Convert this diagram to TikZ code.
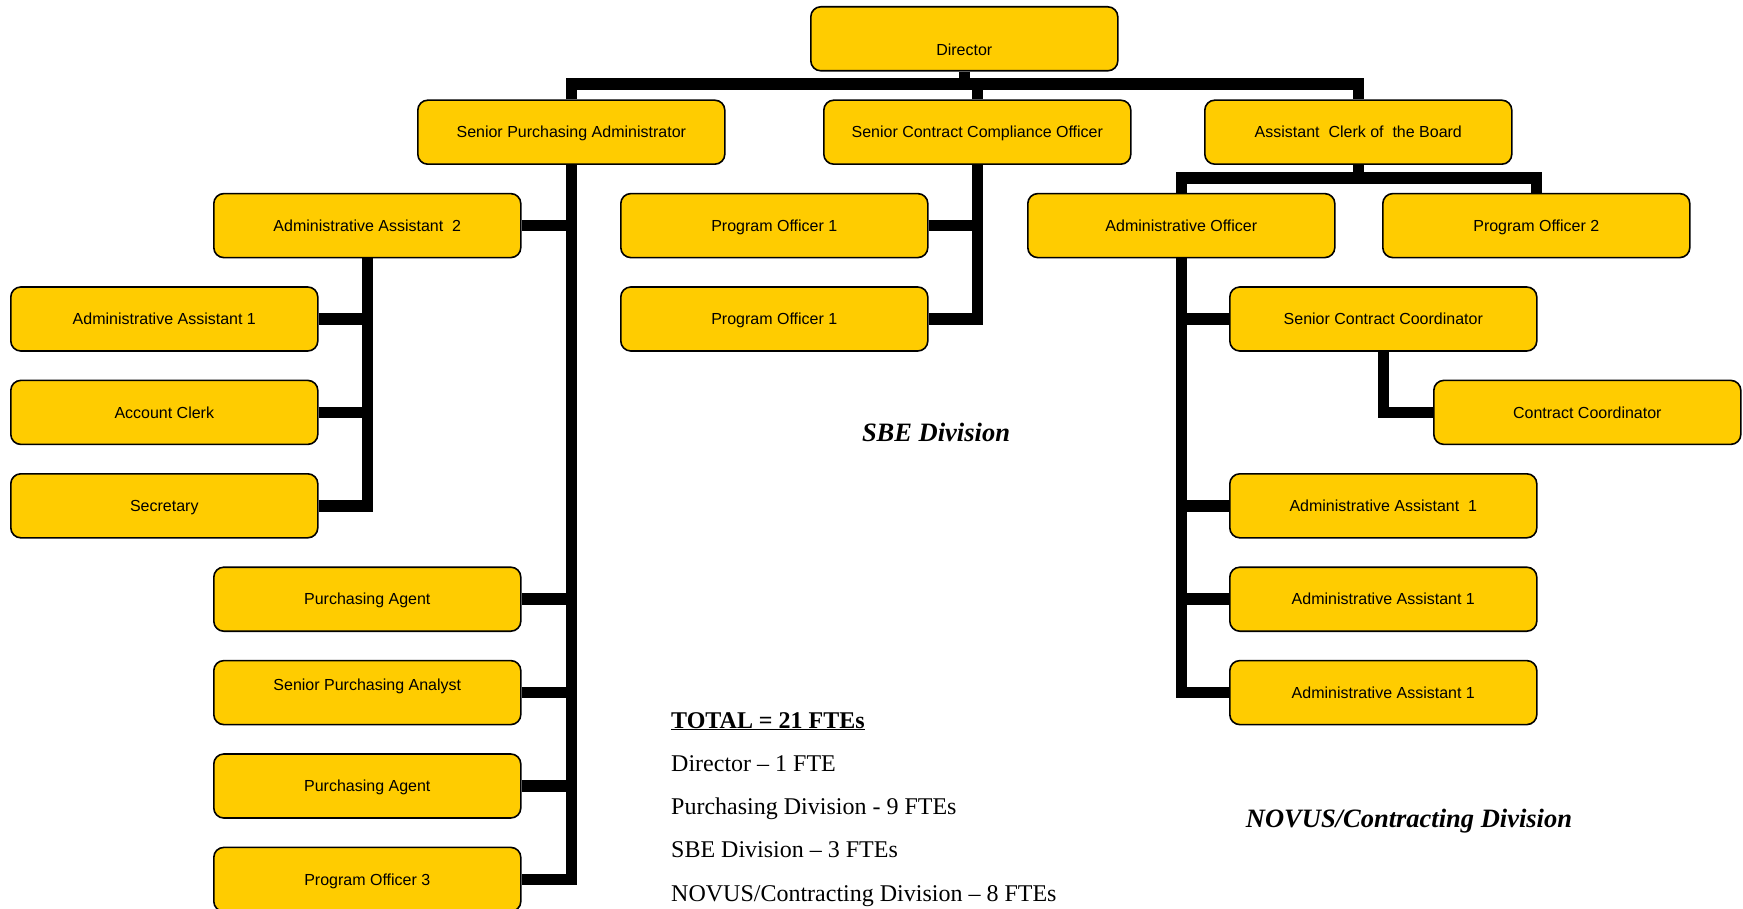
\documentclass[tikz,border=0pt]{standalone}
\usepackage{fontspec}
\setmainfont{Liberation Serif}
\newfontfamily\arialf{Liberation Sans}
\usetikzlibrary{backgrounds}
\definecolor{boxyellow}{RGB}{255,204,0}
\begin{document}
\begin{tikzpicture}[x=1pt,y=-1pt,
  boxfont/.style={font=\arialf\fontsize{16}{19}\selectfont, text height=11.5pt, text depth=0pt},
  orgbox/.style={draw=black, line width=1.6pt, fill=boxyellow, rounded corners=10pt,
    minimum width=307pt, minimum height=64pt, inner sep=0pt, boxfont, anchor=north west},
  link/.style={line width=11.5pt, line join=miter, line cap=butt},
  divlabel/.style={font=\bfseries\itshape\fontsize{26.5}{31}\selectfont, anchor=base},
  totline/.style={font=\fontsize{24}{29}\selectfont, anchor=base west, inner sep=0pt}]
\useasboundingbox (0,0) rectangle (1743,909);

% boxes
\node[orgbox, label={[boxfont, yshift=-11pt]center:Director}] (dir) at (810,6) {};
\node[orgbox] (spa)  at (417,99.4)  {Senior Purchasing Administrator};
\node[orgbox] (scco) at (823,99.4)  {Senior Contract Compliance Officer};
\node[orgbox] (acb)  at (1204,99.4) {Assistant\ \ Clerk of\ \ the Board};
\node[orgbox] (aa2)  at (213,192.8) {Administrative Assistant\ \ 2};
\node[orgbox] (po1a) at (620,192.8) {Program Officer 1};
\node[orgbox] (ao)   at (1027,192.8) {Administrative Officer};
\node[orgbox] (po2)  at (1382,192.8) {Program Officer 2};
\node[orgbox] (aa1l) at (10,286.2)  {Administrative Assistant 1};
\node[orgbox] (po1b) at (620,286.2) {Program Officer 1};
\node[orgbox] (scc)  at (1229,286.2) {Senior Contract Coordinator};
\node[orgbox] (clerk) at (10,379.6) {Account Clerk};
\node[orgbox] (cc)   at (1433,379.6) {Contract Coordinator};
\node[orgbox] (sec)  at (10,473)    {Secretary};
\node[orgbox] (aa1ra) at (1229,473) {Administrative Assistant\ \ 1};
\node[orgbox] (pa1)  at (213,566.4) {Purchasing Agent};
\node[orgbox] (aa1rb) at (1229,566.4) {Administrative Assistant 1};
\node[orgbox, label={[boxfont, yshift=8pt]center:Senior Purchasing Analyst}] (span) at (213,659.8) {};
\node[orgbox] (aa1rc) at (1229,659.8) {Administrative Assistant 1};
\node[orgbox] (pa2)  at (213,753.2) {Purchasing Agent};
\node[orgbox] (po3)  at (213,846.6) {Program Officer 3};

% connectors
\begin{scope}[on background layer]
\coordinate (bar) at (dir.south |- 0,84);
\coordinate (bar2) at (acb.south |- 0,178);
\draw[link] (dir.south) -- (bar);
\draw[link] (spa.north) |- (bar) -| (acb.north);
\draw[link] (scco.north) -- (scco.north |- bar);
% purchasing
\draw[link] (spa.south) |- (po3.east);
\foreach \n in {aa2,pa1,span,pa2} \draw[link] (\n.east) -- (\n.east -| spa.south);
\draw[link] (aa2.south) |- (sec.east);
\foreach \n in {aa1l,clerk} \draw[link] (\n.east) -- (\n.east -| aa2.south);
% SBE
\draw[link] (scco.south) |- (po1b.east);
\draw[link] (po1a.east) -- (po1a.east -| scco.south);
% NOVUS
\draw[link] (acb.south) -- (bar2);
\draw[link] (ao.north) |- (bar2) -| (po2.north);
\draw[link] (ao.south) |- (aa1rc.west);
\foreach \n in {scc,aa1ra,aa1rb} \draw[link] (\n.west -| ao.south) -- (\n.west);
\draw[link] (scc.south) |- (cc.west);
\end{scope}

% division labels
\node[divlabel] (sbe) at (936,441) {SBE Division};
\node[divlabel] (novus) at (1409,827) {NOVUS/Contracting Division};

% totals
\node[totline] (t0) at (671,728)   {\textbf{\underline{TOTAL = 21 FTEs}}};
\node[totline] (t1) at (671,771.3) {Director -- 1 FTE};
\node[totline] (t2) at (671,814.6) {Purchasing Division - 9 FTEs};
\node[totline] (t3) at (671,857.9) {SBE Division -- 3 FTEs};
\node[totline] (t4) at (671,901.2) {NOVUS/Contracting Division -- 8 FTEs};
\end{tikzpicture}
\end{document}
